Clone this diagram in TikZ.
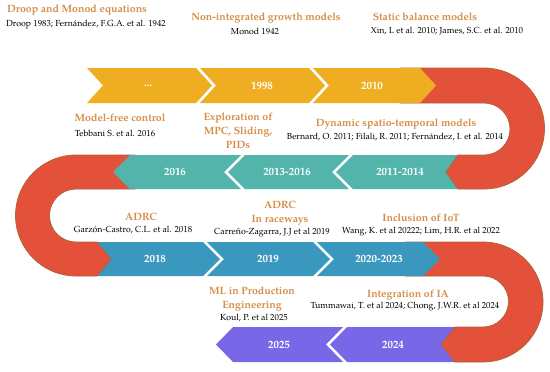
\documentclass[tikz,border=0pt]{standalone}
\usepackage{fontspec}
\setmainfont{texgyrepagella}[Extension=.otf, UprightFont=*-regular, BoldFont=*-bold, ItalicFont=*-italic, BoldItalicFont=*-bolditalic]
\definecolor{corange}{RGB}{239,174,34}
\definecolor{cred}{RGB}{228,81,58}
\definecolor{credge}{RGB}{170,100,55}
\definecolor{cteal}{RGB}{82,180,170}
\definecolor{cblue}{RGB}{58,152,190}
\definecolor{cpurple}{RGB}{120,104,232}
\definecolor{ctitle}{RGB}{214,142,72}
\begin{document}
\begin{tikzpicture}[x=1bp,y=1bp,
  redband/.style={fill=cred, draw=credge, line width=0.7bp},
  orseg/.style={fill=corange},
  teseg/.style={fill=cteal},
  blseg/.style={fill=cblue},
  puseg/.style={fill=cpurple},
  ttl/.style={font=\fontsize{10.6}{14.2}\selectfont\bfseries, text=ctitle, inner sep=0pt, align=center},
  cit/.style={font=\fontsize{8.8}{10}\selectfont, text=black, inner sep=0pt},
  yr/.style={font=\fontsize{11}{13}\selectfont\bfseries, text=white, inner sep=0pt}]
\useasboundingbox (0,0) rectangle (550,-371);
\fill[white] (0,0) rectangle (550,-371);
% row 4 purple
\fill[puseg] (458,-327) -- (347,-327) -- (330,-344.5) -- (347,-362) -- (458,-362) -- cycle;
\fill[puseg] (343,-327) -- (233,-327) -- (216,-344.5) -- (233,-362) -- (343,-362) -- (326,-344.5) -- cycle;
% red 3
\filldraw[redband] (405,-242) -- (483,-242) arc[start angle=90,end angle=-90,radius=60] -- (455,-362) -- (441,-344.5) -- (455,-327) -- (483,-327) arc[start angle=-90,end angle=90,radius=25.5] -- (405,-276) -- cycle;
% row 3 blue
\fill[blseg] (95,-242) -- (203,-242) -- (220,-259) -- (203,-276) -- (95,-276) -- cycle;
\fill[blseg] (207,-242) -- (313,-242) -- (330,-259) -- (313,-276) -- (207,-276) -- (224,-259) -- cycle;
\fill[blseg] (317,-242) -- (423,-242) -- (440,-259) -- (423,-276) -- (317,-276) -- (334,-259) -- cycle;
% red 2
\filldraw[redband] (135,-155) -- (76,-155) arc[start angle=90,end angle=270,radius=60.5] -- (97,-276) -- (111,-259) -- (97,-242) -- (76,-242) arc[start angle=270,end angle=90,radius=26.5] -- (135,-189) -- cycle;
% row 2 teal
\fill[teseg] (458,-155) -- (353,-155) -- (336,-172) -- (353,-189) -- (458,-189) -- cycle;
\fill[teseg] (349,-155) -- (245,-155) -- (228,-172) -- (245,-189) -- (349,-189) -- (332,-172) -- cycle;
\fill[teseg] (241,-155) -- (130,-155) -- (113,-172) -- (130,-189) -- (241,-189) -- (224,-172) -- cycle;
% red 1
\filldraw[redband] (400,-68) -- (484,-68) arc[start angle=90,end angle=-90,radius=60.5] -- (458,-189) -- (446,-172) -- (458,-155) -- (484,-155) arc[start angle=-90,end angle=90,radius=26] -- (400,-103) -- cycle;
% row 1 orange
\fill[orseg] (87,-68) -- (196,-68) -- (212,-85.5) -- (196,-103) -- (87,-103) -- (103,-85.5) -- cycle;
\fill[orseg] (200,-68) -- (309,-68) -- (325,-85.5) -- (309,-103) -- (200,-103) -- (216,-85.5) -- cycle;
\fill[orseg] (313,-68) -- (420,-68) -- (436,-85.5) -- (420,-103) -- (313,-103) -- (329,-85.5) -- cycle;
% year labels
\node[yr] (y1) at (148,-85.5) {...};
\node[yr] (y2) at (262,-85.5) {1998};
\node[yr] (y3) at (372,-85.5) {2010};
\node[yr] (y4) at (175,-172) {2016};
\node[yr] (y5) at (287,-172) {2013-2016};
\node[yr] (y6) at (400,-172) {2011-2014};
\node[yr] (y7) at (155,-259) {2018};
\node[yr] (y8) at (268,-259) {2019};
\node[yr] (y9) at (379,-259) {2020-2023};
\node[yr] (y10) at (279,-344.5) {2025};
\node[yr] (y11) at (393,-344.5) {2024};
% titles and citations
\node[ttl] (t1) at (77,-10) {Droop and Monod equations};
\node[cit] (c1) at (86,-25) {Droop 1983; Fernández, F.G.A. et al. 1942};
\node[ttl] (t2) at (266,-18) {Non-integrated growth models};
\node[cit] (c2) at (255,-31) {Monod 1942};
\node[ttl] (t3) at (425,-17) {Static balance models};
\node[cit] (c3) at (447,-31) {Xin, L et al. 2010; James, S.C. et al. 2010};
\node[ttl] (t4) at (120,-118) {Model-free control};
\node[cit] (c4) at (115,-133) {Tebbani S. et al. 2016};
\node[ttl] (t5) at (238,-131) {Exploration of\\MPC, Sliding,\\PIDs};
\node[ttl] (t6) at (396,-124) {Dynamic spatio-temporal models};
\node[cit] (c6) at (395,-137) {Bernard, O. 2011; Filali, R. 2011; Fernández, I. et al. 2014};
\node[ttl] (t7) at (141,-217) {ADRC};
\node[cit] (c7) at (133,-230) {Garzón-Castro, C.L. et al. 2018};
\node[ttl] (t8) at (280,-213.5) {ADRC\\In raceways};
\node[cit] (c8) at (272,-233) {Carreño-Zagarra, J.J et al 2019};
\node[ttl] (t9) at (421,-218) {Inclusion of IoT};
\node[cit] (c9) at (421,-232) {Wang, K. et al 20222; Lim, H.R. et al 2022};
\node[ttl] (t10) at (252,-299) {ML in Production\\Engineering};
\node[cit] (c10) at (254,-318) {Koul, P. et al 2025};
\node[ttl] (t11) at (408,-295) {Integration of IA};
\node[cit] (c11) at (405,-307) {Tummawai, T. et al 2024; Chong, J.W.R. et al 2024};
\end{tikzpicture}
\end{document}
